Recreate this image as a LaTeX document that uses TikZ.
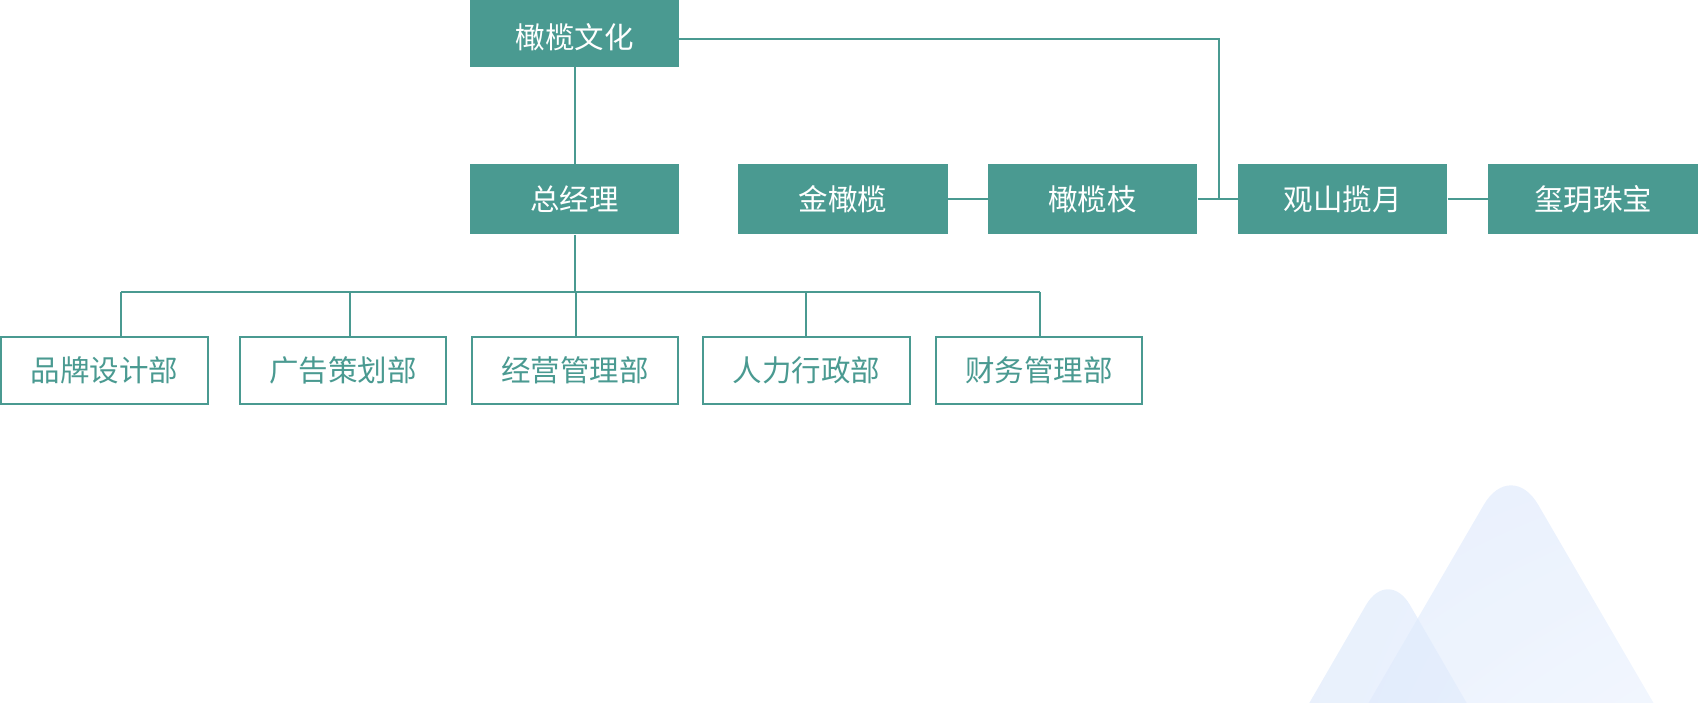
\documentclass[tikz,border=0pt]{standalone}
\usepackage{fontspec}
\setmainfont{Noto Sans CJK SC}
\usetikzlibrary{positioning,shadings}
\definecolor{teal1}{HTML}{4A9A91}
\definecolor{mblue}{HTML}{DCE8FB}
\definecolor{mblueb}{HTML}{F7FAFF}
\tikzset{
  fbox/.style={fill=teal1, text=white, minimum width=209.5pt, minimum height=70pt, inner sep=0pt,
    font=\fontsize{29.5}{34}\selectfont},
  obox/.style={draw=teal1, line width=2pt, fill=white, text=teal1, minimum width=206.5pt, minimum height=67.5pt, inner sep=0pt,
    font=\fontsize{29.5}{34}\selectfont},
  conn/.style={draw=teal1, line width=2pt},
}
\begin{document}
\begin{tikzpicture}[x=1pt,y=-1pt]
\useasboundingbox (0,0) rectangle (1698,703);
\begin{scope}
\clip (0,0) rectangle (1698,703);
% mountains
\shade[fill opacity=0.68, upper left=mblue, lower right=mblueb, lower left=mblue!70!mblueb, upper right=mblue!80!mblueb, rounded corners=54pt]
  (1269,874) -- (1511,458) -- (1753,874) -- cycle;
\shade[fill opacity=0.68, upper left=mblue, lower right=mblue!60!mblueb, lower left=mblue, upper right=mblue!80!mblueb, rounded corners=44pt]
  (1230,840) -- (1388,567) -- (1546,840) -- cycle;
\end{scope}
% nodes
\node[fbox, minimum height=67pt] (top) at (574.5,33.5) {\raisebox{-3.5pt}[\height][\depth]{橄榄文化}};
\node[fbox] (gm) at (574.5,199.5) {总经理};
\node[fbox] (jin) at (842.75,199.5) {金橄榄};
\node[fbox] (zhi) at (1092.6,199.5) {橄榄枝};
\node[fbox] (gs) at (1342.7,199.5) {观山揽月};
\node[fbox] (xy) at (1593,199.5) {玺玥珠宝};
\node[obox] (b1) at (104.5,370.4) {品牌设计部};
\node[obox] (b2) at (342.75,370.4) {广告策划部};
\node[obox] (b3) at (574.75,370.4) {经营管理部};
\node[obox] (b4) at (806.6,370.4) {人力行政部};
\node[obox] (b5) at (1039,370.4) {财务管理部};
% junctions
\coordinate (k) at (1219,199.5);
\coordinate (j1) at (121,292);
\coordinate (j2) at (350,292);
\coordinate (j3) at (576,292);
\coordinate (j4) at (805.7,292);
\coordinate (j5) at (1040,292);
% connectors
\draw[conn] (top.south) -- (gm.north);
\draw[conn] ([yshift=-5.5pt]top.east) -| (k);
\draw[conn] (jin.east) -- (zhi.west);
\draw[conn] (zhi.east) -- (gs.west);
\draw[conn] (gs.east) -- (xy.west);
\draw[conn] (gm.south) -- (gm.south |- j3);
\draw[conn] (j1) -- (j5);
\draw[conn] (j1) -- (j1 |- b1.north);
\draw[conn] (j2) -- (j2 |- b2.north);
\draw[conn] (j3) -- (j3 |- b3.north);
\draw[conn] (j4) -- (j4 |- b4.north);
\draw[conn] (j5) -- (j5 |- b5.north);
\end{tikzpicture}
\end{document}
